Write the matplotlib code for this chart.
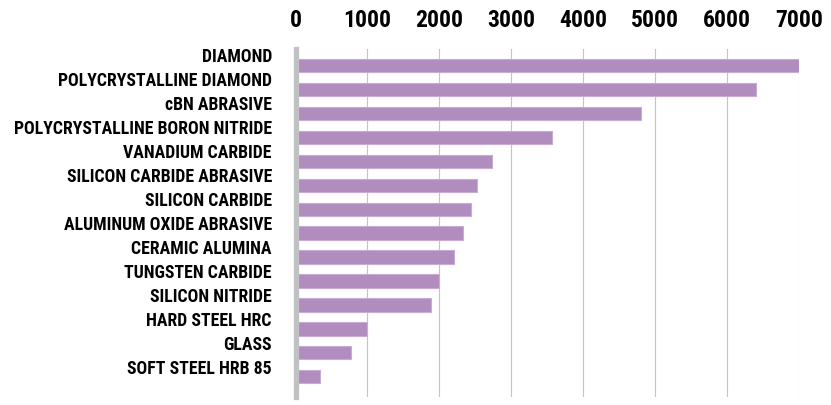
import numpy as np
import matplotlib.pyplot as plt
from matplotlib import font_manager

materials = ["DIAMOND", "POLYCRYSTALLINE DIAMOND", "cBN ABRASIVE",
             "POLYCRYSTALLINE BORON NITRIDE", "VANADIUM CARBIDE",
             "SILICON CARBIDE ABRASIVE", "SILICON CARBIDE",
             "ALUMINUM OXIDE ABRASIVE", "CERAMIC ALUMINA", "TUNGSTEN CARBIDE",
             "SILICON NITRIDE", "HARD STEEL HRC", "GLASS", "SOFT STEEL HRB 85"]
hardness = [7000, 6400, 4800, 3560, 2730, 2520, 2440, 2330, 2200, 2000,
            1880, 1000, 770, 340]
xticks = [0, 1000, 2000, 3000, 4000, 5000, 6000, 7000]

wanted = ["Roboto Condensed", "Archivo Narrow", "PT Sans Narrow",
          "Barlow Condensed", "Oswald", "DejaVu Sans"]
names = {f.name for f in font_manager.fontManager.ttflist}
fam = [f for f in wanted if f in names]

fig = plt.figure(figsize=(8.31, 4.06), dpi=100)
ax = fig.add_axes([295.5/831, 8/406, 503.5/831, 348/406])

y = np.arange(len(materials))
ax.barh(y, hardness, height=0.55, color="#b18cbe", edgecolor="#c7abd2",
        linewidth=0.8, zorder=2)

ax.set_xlim(0, 7000)
ax.set_ylim(13.84, -0.68)

ax.xaxis.tick_top()
ax.set_xticks(xticks)
ax.set_xticklabels([str(t) for t in xticks], family=fam, fontweight="bold",
                   fontsize=17)
ax.tick_params(axis="x", length=0, pad=13)

# labels sit a little above their bars
ax.set_yticks(y - 0.46)
ax.set_yticklabels(materials, family=fam, fontweight="bold", fontsize=12.8)
ax.tick_params(axis="y", length=0, pad=17)

ax.grid(axis="x", color="#c4c4c4", linewidth=0.8, zorder=0)
ax.set_axisbelow(True)
for s in ["top", "right", "bottom"]:
    ax.spines[s].set_visible(False)
ax.spines["left"].set_color("#bfc1c3")
ax.spines["left"].set_linewidth(3.8)
ax.spines["left"].set_zorder(3)

fig.savefig("out.png", dpi=100)
